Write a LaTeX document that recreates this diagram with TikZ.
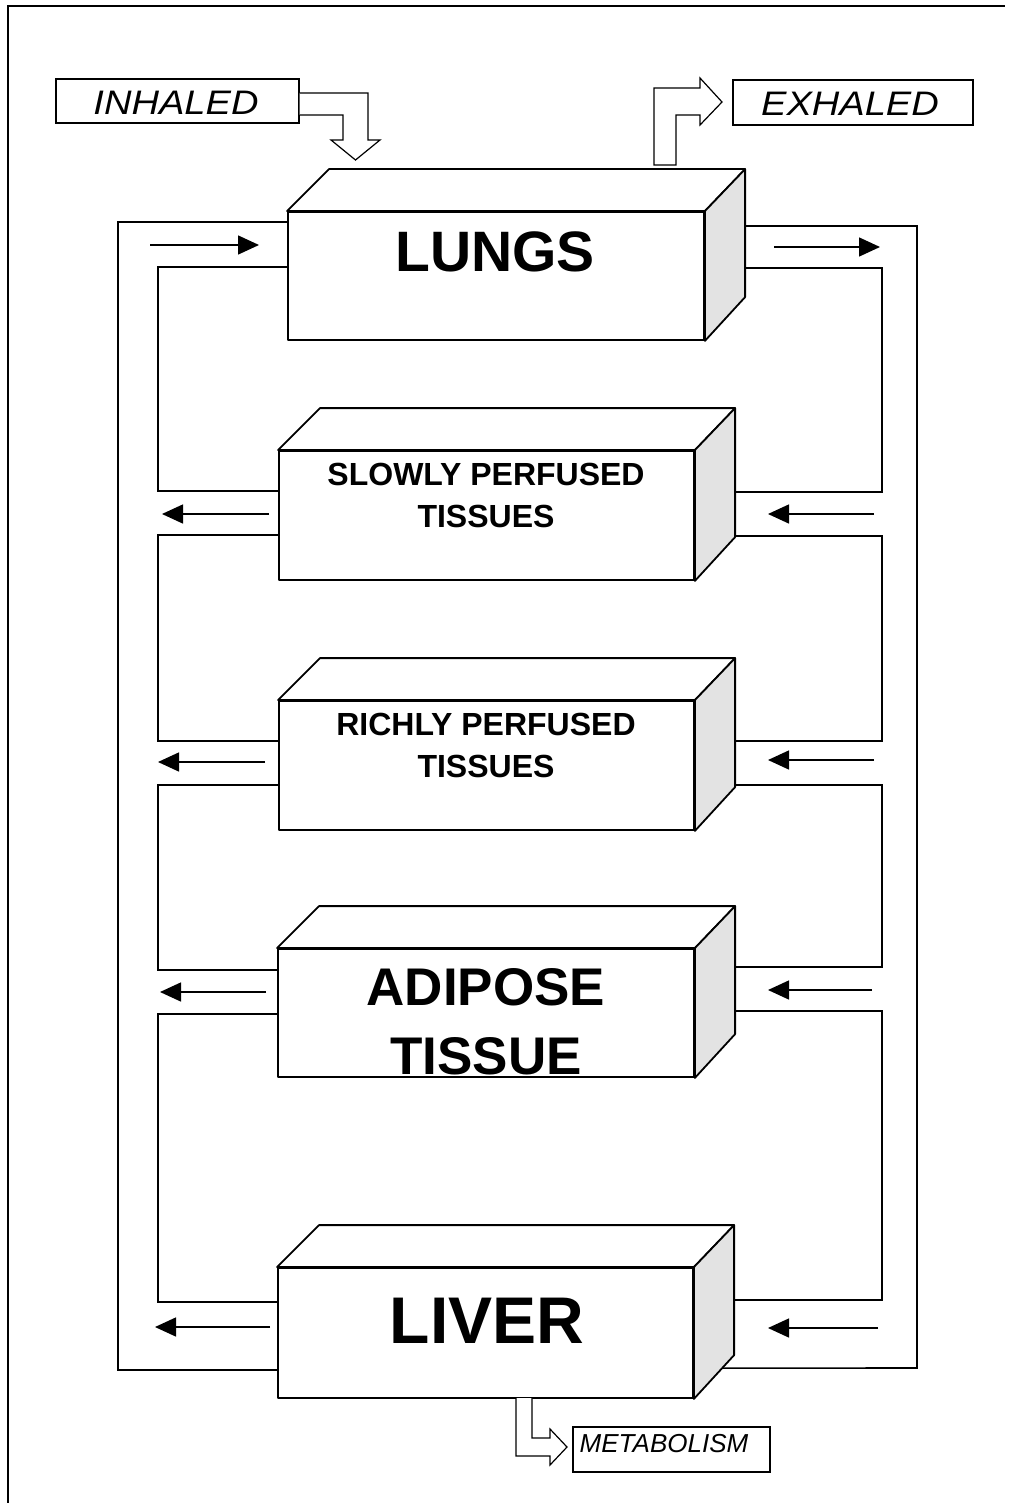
\documentclass[tikz,border=0pt]{standalone}
\usepackage{fontspec}
\setmainfont{Liberation Sans}
\usetikzlibrary{arrows.meta,calc}
\tikzset{
  frontface/.style={draw, line width=1.8pt, fill=white, inner sep=0pt, line join=round},
  sideface/.style={draw, line width=1.8pt, fill=black!11, line join=round},
  pipe/.style={line width=1.6pt},
  flowarrow/.style={line width=1.5pt, -{Triangle[length=21pt,width=19pt]}},
  tagbox/.style={draw, line width=1.3pt, inner sep=0pt},
  blockarrow/.style={draw, line width=1.2pt, fill=white, line join=miter},
  biglabel/.style={font=\bfseries, align=center, inner sep=0pt},
}
\newcommand\organbox[5]{%
  \node[frontface, minimum width=#4pt, minimum height=#5pt] (#1) at (#2,#3) {};
  \draw[frontface] (#1.north west) -- ++(42,-42) coordinate (#1-bnw) -- ++(#4,0) coordinate (#1-bne) -- (#1.north east) -- cycle;
  \draw[sideface] (#1.north east) -- (#1-bne) -- ++(0,#5) coordinate (#1-bse) -- (#1.south east) -- cycle;
}
\begin{document}
\begin{tikzpicture}[x=1pt,y=-1pt]
\useasboundingbox (0,0) rectangle (1011,1503);
% frame
\draw[line width=1.5pt] (8,1503) -- (8,6) -- (1005,6);

% organs
\organbox{lungs}{496}{276}{416}{128}
\organbox{slowly}{486.5}{515.5}{415}{129}
\organbox{richly}{486.5}{765.5}{415}{129}
\organbox{adipose}{486}{1013}{416}{128}
\organbox{liver}{485.5}{1333}{415}{130}

\node[biglabel, font=\fontsize{57}{60}\selectfont\bfseries] (lungslbl) at (495,252) {LUNGS};
\node[biglabel, font=\fontsize{32}{42}\selectfont\bfseries] (slowlylbl) at (486,495) {SLOWLY PERFUSED\\TISSUES};
\node[biglabel, font=\fontsize{32}{42}\selectfont\bfseries] (richlylbl) at (486,745) {RICHLY PERFUSED\\TISSUES};
\node[biglabel, font=\fontsize{53}{69}\selectfont\bfseries] (adiposelbl) at (486,1021.5) {ADIPOSE\\TISSUE};
\node[biglabel, font=\fontsize{66}{70}\selectfont\bfseries] (liverlbl) at (487,1321) {LIVER};

% rails
\coordinate (Lo) at (118,0);
\coordinate (Li) at (158,0);
\coordinate (Ri) at (882,0);
\coordinate (Ro) at (917,0);
\coordinate (liverX) at (intersection of liver-bse--liver.south east and 0,1368--1000,1368);

% left side (venous return)
\draw[pipe] (lungs.west |- 0,222) -| (Lo |- 0,1370) -- (liver.west |- 0,1370);
\draw[pipe] (lungs.west |- 0,267) -| (Li |- 0,491) -- (slowly.west |- 0,491);
\draw[pipe] (slowly.west |- 0,535) -| (Li |- 0,741) -- (richly.west |- 0,741);
\draw[pipe] (richly.west |- 0,785) -| (Li |- 0,970) -- (adipose.west |- 0,970);
\draw[pipe] (adipose.west |- 0,1014) -| (Li |- 0,1302) -- (liver.west |- 0,1302);

% right side (arterial)
\draw[pipe] (lungs-bne |- 0,226) -| (Ro |- 0,1368) -- (liverX);
\draw[pipe] (lungs-bne |- 0,268) -| (Ri |- 0,492) -- (slowly-bne |- 0,492);
\draw[pipe] (slowly-bne |- 0,536) -| (Ri |- 0,741) -- (richly-bne |- 0,741);
\draw[pipe] (richly-bne |- 0,785) -| (Ri |- 0,967) -- (adipose-bne |- 0,967);
\draw[pipe] (adipose-bne |- 0,1011) -| (Ri |- 0,1300) -- (liver-bne |- 0,1300);

% flow arrows
\draw[flowarrow] (150,245) -- (259,245);
\draw[flowarrow] (774,247) -- (880,247);
\draw[flowarrow] (269,514) -- (162,514);
\draw[flowarrow] (874,514) -- (768,514);
\draw[flowarrow] (265,762) -- (158,762);
\draw[flowarrow] (874,760) -- (768,760);
\draw[flowarrow] (266,992) -- (160,992);
\draw[flowarrow] (872,990) -- (768,990);
\draw[flowarrow] (270,1327) -- (155,1327);
\draw[flowarrow] (878,1328) -- (768,1328);

% inhaled
\node[tagbox, minimum width=243pt, minimum height=44pt] (inhaled) at (177.5,101) {};
\node[inner sep=0pt, font=\fontsize{34}{40}\selectfont\itshape] (inhaledlbl) at (176,103) {\scalebox{1.12}[1]{INHALED}};
\draw[blockarrow] (inhaled.east |- 0,93) -- (368,93) -- (368,140) -- (380,140) -- (355.5,160) -- (331,140) -- (343,140) -- (343,115) -- (inhaled.east |- 0,115);

% exhaled
\node[tagbox, minimum width=240pt, minimum height=45pt] (exhaled) at (853,102.5) {};
\node[inner sep=0pt, font=\fontsize{34}{40}\selectfont\itshape] (exhaledlbl) at (850,104) {\scalebox{1.12}[1]{EXHALED}};
\draw[blockarrow] (654,165) -- (654,88) -- (700,88) -- (700,78) -- (722,102) -- (700,125) -- (700,115) -- (676,115) -- (676,165) -- cycle;

% metabolism
\node[tagbox, minimum width=197pt, minimum height=45pt] (metab) at (671.5,1449.5) {};
\node[inner sep=0pt, font=\fontsize{26}{30}\selectfont\itshape] (metablbl) at (664,1444) {METABOLISM};
\draw[blockarrow] (516,1398) -- (516,1456) -- (550,1456) -- (550,1465) -- (567,1447) -- (550,1429) -- (550,1438) -- (532,1438) -- (532,1398);
\end{tikzpicture}
\end{document}
